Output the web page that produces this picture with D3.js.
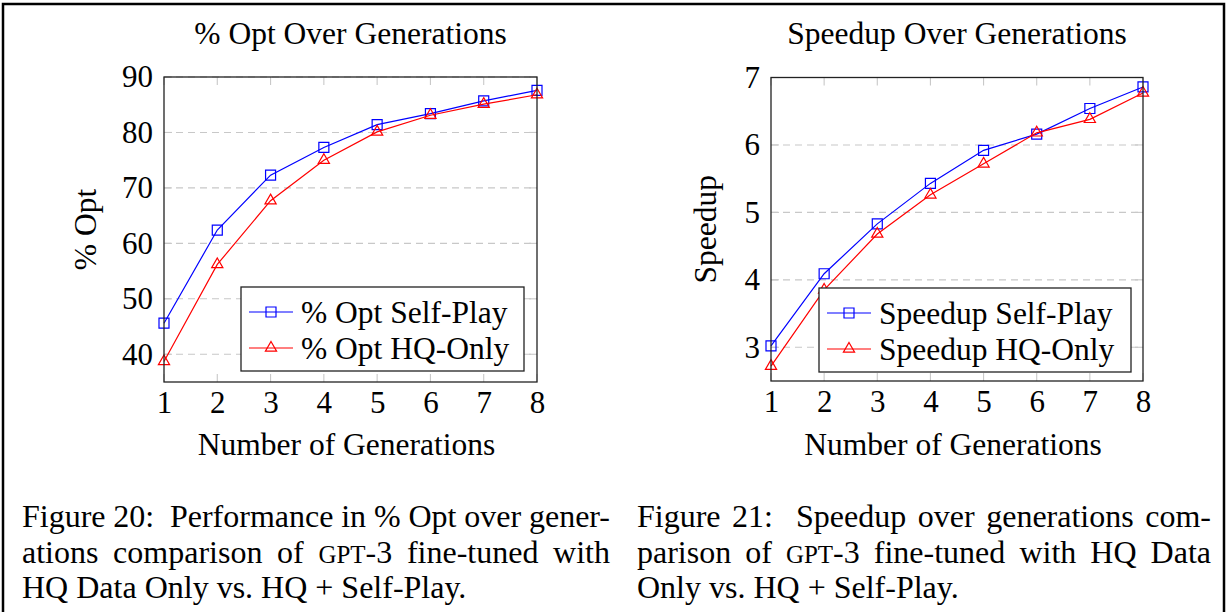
<!DOCTYPE html>
<html><head><meta charset="utf-8">
<script src="https://cdn.jsdelivr.net/npm/d3@7"></script>
<style>
body{margin:0;background:#fff}
svg{display:block}
text{font-family:"Liberation Serif","Times New Roman",serif;fill:#000}
</style>
</head><body>
<svg id="c" width="1228" height="612"></svg>
<script>
// Generations on the x axis
const generations = [1, 2, 3, 4, 5, 6, 7, 8];
// % Opt per generation
const optSelfPlay = [45.6, 62.4, 72.3, 77.3, 81.4, 83.4, 85.7, 87.6];
const optHQOnly   = [38.7, 56.2, 67.7, 75.0, 80.1, 83.1, 85.1, 86.8];
// Speedup per generation
const speedupSelfPlay = [3.02, 4.09, 4.83, 5.43, 5.92, 6.16, 6.54, 6.86];
const speedupHQOnly   = [2.72, 3.85, 4.68, 5.26, 5.72, 6.18, 6.38, 6.77];
// Tick labels
const xTicks = [1, 2, 3, 4, 5, 6, 7, 8];
const optTicks = [40, 50, 60, 70, 80, 90];
const speedupTicks = [3, 4, 5, 6, 7];

const svg = d3.select("#c");
const FS = 31.5;

// page frame
svg.append("path")
  .attr("d", "M3,620 V4 H1224 V620")
  .attr("fill", "none").attr("stroke", "#000").attr("stroke-width", 2.5);

const SQUARE = "M-5,-5H5V5H-5Z";
const TRIANGLE = "M0,-6.5L5.6,3.2H-5.6Z";

function panel(cfg) {
  const g = svg.append("g");
  const x = d3.scaleLinear().domain([1, 8]).range([cfg.left, cfg.right]);
  const y = d3.scaleLinear().domain(cfg.yDomain).range([cfg.bottom, cfg.top]);
  const gridColor = "#c8c8c8";

  // dashed horizontal grid
  g.append("g").selectAll("line").data(cfg.yTicks).join("line")
    .attr("x1", cfg.left).attr("x2", cfg.right)
    .attr("y1", d => y(d)).attr("y2", d => y(d))
    .attr("stroke", gridColor).attr("stroke-width", 1.1)
    .attr("stroke-dasharray", "7,5");

  // inner tick marks
  const tl = 8;
  const tick = (data, f) => g.append("g").selectAll("line").data(data).join("line")
    .each(function (d) { const c = f(d); d3.select(this).attr("x1", c[0]).attr("y1", c[1]).attr("x2", c[2]).attr("y2", c[3]); })
    .attr("stroke", gridColor).attr("stroke-width", 1.1);
  tick(cfg.yTicks, d => [cfg.left, y(d), cfg.left + tl, y(d)]);
  tick(cfg.yTicks, d => [cfg.right - tl, y(d), cfg.right, y(d)]);
  tick(xTicks, d => [x(d), cfg.top, x(d), cfg.top + tl]);
  tick(xTicks, d => [x(d), cfg.bottom - tl, x(d), cfg.bottom]);

  // tick labels via d3 axes (tick lines hidden)
  const yAxis = g.append("g").attr("transform", `translate(${cfg.left},0)`)
    .call(d3.axisLeft(y).tickValues(cfg.yTicks).tickFormat(d3.format("d")).tickSize(0).tickPadding(11));
  const xAxis = g.append("g").attr("transform", `translate(0,${cfg.bottom})`)
    .call(d3.axisBottom(x).tickValues(xTicks).tickFormat(d3.format("d")).tickSize(0).tickPadding(9));
  [yAxis, xAxis].forEach(a => {
    a.attr("font-family", null).attr("font-size", null);
    a.select(".domain").remove();
    a.selectAll("text").attr("font-size", 31);
  });
  xAxis.selectAll("text").attr("dy", "0.71em");

  // series
  cfg.series.forEach(s => {
    const pts = generations.map((gen, i) => [x(gen), y(s.values[i])]);
    g.append("path").attr("d", d3.line()(pts))
      .attr("fill", "none").attr("stroke", s.color).attr("stroke-width", 1.2);
    g.append("g").selectAll("path").data(pts).join("path")
      .attr("transform", d => `translate(${d[0]},${d[1]})`)
      .attr("d", s.mark === "square" ? SQUARE : TRIANGLE)
      .attr("fill", "none").attr("stroke", s.color).attr("stroke-width", 1.2);
  });

  // axis frame
  g.append("rect")
    .attr("x", cfg.left).attr("y", cfg.top)
    .attr("width", cfg.right - cfg.left).attr("height", cfg.bottom - cfg.top)
    .attr("fill", "none").attr("stroke", "#222").attr("stroke-width", 1.3);

  // legend
  const L = cfg.legend;
  const lg = g.append("g");
  lg.append("rect").attr("x", L.x).attr("y", L.y).attr("width", L.w).attr("height", L.h)
    .attr("fill", "#fff").attr("stroke", "#222").attr("stroke-width", 1.3);
  cfg.series.forEach((s, i) => {
    const cy = L.y + 25 + i * 36;
    const lx = L.x + 8;
    lg.append("line").attr("x1", lx).attr("x2", lx + 44).attr("y1", cy).attr("y2", cy)
      .attr("stroke", s.color).attr("stroke-width", 1.2);
    lg.append("path").attr("transform", `translate(${lx + 22},${cy})`)
      .attr("d", s.mark === "square" ? SQUARE : TRIANGLE)
      .attr("fill", "none").attr("stroke", s.color).attr("stroke-width", 1.2);
    lg.append("text").attr("x", lx + 52).attr("y", cy).attr("dy", "0.35em")
      .attr("font-size", FS).text(s.name);
  });

  // title
  g.append("text").attr("x", (cfg.left + cfg.right) / 2).attr("y", 44)
    .attr("text-anchor", "middle").attr("font-size", 31.5).text(cfg.title);
  // x label
  g.append("text").attr("x", (cfg.left + cfg.right) / 2 - 4).attr("y", 455)
    .attr("text-anchor", "middle").attr("font-size", FS).text("Number of Generations");
  // y label
  g.append("text")
    .attr("transform", `translate(${cfg.yLabelX},${(cfg.top + cfg.bottom) / 2}) rotate(-90)`)
    .attr("text-anchor", "middle").attr("font-size", FS).text(cfg.yLabel);
}

panel({
  left: 164, right: 537, top: 77, bottom: 382,
  yDomain: [35, 90], yTicks: optTicks,
  title: "% Opt Over Generations", yLabel: "% Opt", yLabelX: 96,
  legend: { x: 241, y: 287, w: 283, h: 84 },
  series: [
    { name: "% Opt Self-Play", values: optSelfPlay, color: "#0000ff", mark: "square" },
    { name: "% Opt HQ-Only", values: optHQOnly, color: "#ff0000", mark: "triangle" }
  ]
});

panel({
  left: 771, right: 1143, top: 77.5, bottom: 381,
  yDomain: [2.5, 7], yTicks: speedupTicks,
  title: "Speedup Over Generations", yLabel: "Speedup", yLabelX: 716,
  legend: { x: 819, y: 288, w: 312, h: 84 },
  series: [
    { name: "Speedup Self-Play", values: speedupSelfPlay, color: "#0000ff", mark: "square" },
    { name: "Speedup HQ-Only", values: speedupHQOnly, color: "#ff0000", mark: "triangle" }
  ]
});

// Captions, set as justified paragraphs (a double space stretches twice as far)
const captionLeft = [
  "Figure 20:  Performance in % Opt over gener-",
  "ations comparison of GPT-3 fine-tuned with",
  "HQ Data Only vs. HQ + Self-Play."
];
const captionRight = [
  "Figure 21:  Speedup over generations com-",
  "parison of GPT-3 fine-tuned with HQ Data",
  "Only vs. HQ + Self-Play."
];
const CFS = 32;

function word(g, w, yPos) {
  const t = g.append("text").attr("y", yPos).attr("font-size", CFS);
  if (w === "GPT-3") {
    t.append("tspan").attr("font-size", CFS * 0.78).text("GPT");
    t.append("tspan").text("-3");
  } else {
    t.text(w);
  }
  return t;
}

function caption(lines, x0, x1, y0, lh) {
  const g = svg.append("g");
  lines.forEach((line, li) => {
    const y = y0 + li * lh;
    const words = line.split(/ +/);
    const weights = (line.match(/ +/g) || []).map(s => s.length);
    const isLast = li === lines.length - 1;
    const nodes = words.map(w => word(g, w, y));
    const widths = nodes.map(n => n.node().getComputedTextLength());
    const total = d3.sum(widths);
    const unit = isLast ? CFS * 0.25 : (x1 - x0 - total) / d3.sum(weights);
    let cx = x0;
    nodes.forEach((n, i) => {
      n.attr("x", cx);
      cx += widths[i] + (i < weights.length ? unit * weights[i] : 0);
    });
  });
}

caption(captionLeft, 22, 610, 527, 35.5);
caption(captionRight, 637, 1211, 527, 35.5);
</script>
</body></html>
